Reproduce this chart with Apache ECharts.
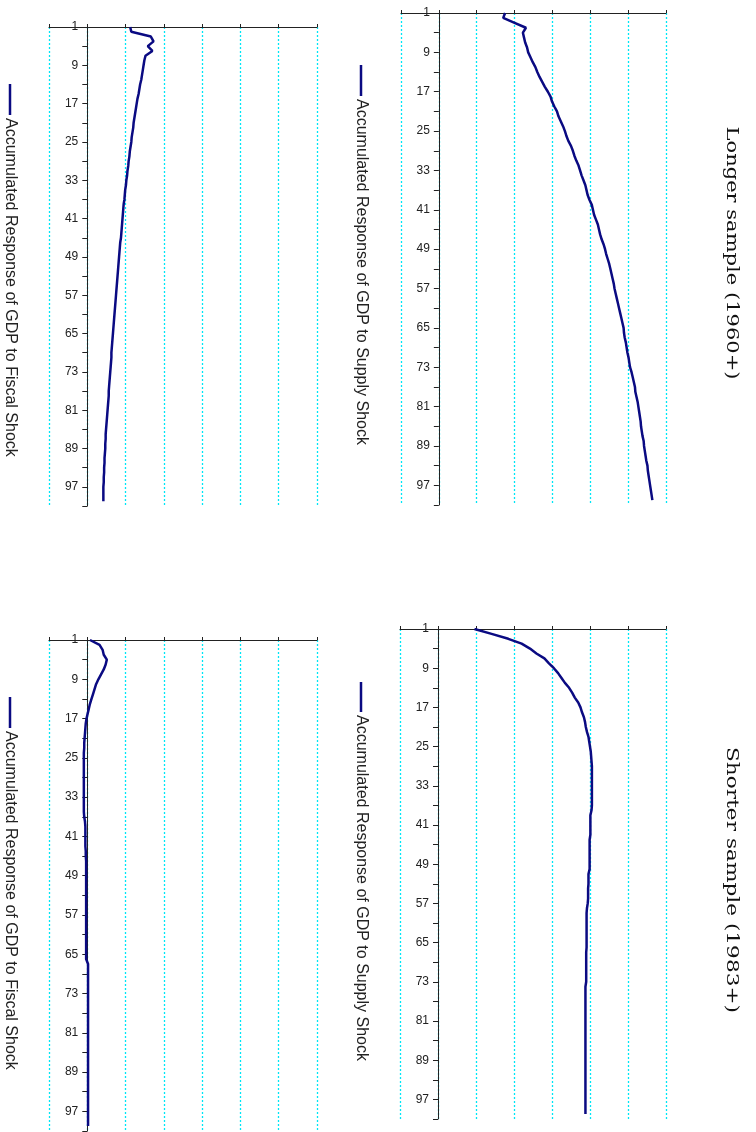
<!DOCTYPE html>
<html>
<head>
<meta charset="utf-8">
<script src="https://cdn.jsdelivr.net/npm/echarts@6/dist/echarts.min.js"></script>
<style>
  html, body { margin: 0; padding: 0; background: #ffffff; }
  #chart { width: 756px; height: 1132px; }
</style>
</head>
<body>
<div id="chart"></div>
<script>
// Horizon (quarters after the shock), 1..101 on the category axis
const periods = Array.from({ length: 101 }, (_, i) => String(i + 1));

const sampleTitles = ['Longer sample (1960+)', 'Shorter sample (1983+)'];
const supplyName = 'Accumulated Response of GDP to Supply Shock';
const fiscalName = 'Accumulated Response of GDP to Fiscal Shock';

// Response axis range and step
const respMin = -1;
const respMax = 6;
const respStep = 1;

// Longer sample (1960+)
const longerSupply = [
  1.75, 1.70, 2.00, 2.30, 2.22, 2.25, 2.28, 2.33, 2.36, 2.42,
  2.48, 2.55, 2.60, 2.66, 2.73, 2.80, 2.88, 2.95, 2.99, 3.05,
  3.12, 3.16, 3.22, 3.28, 3.33, 3.37, 3.42, 3.49, 3.54, 3.58,
  3.63, 3.69, 3.73, 3.77, 3.82, 3.87, 3.90, 3.93, 3.98, 4.04,
  4.07, 4.10, 4.15, 4.20, 4.23, 4.26, 4.30, 4.35, 4.39, 4.42,
  4.46, 4.50, 4.53, 4.56, 4.59, 4.62, 4.64, 4.67, 4.70, 4.73,
  4.76, 4.79, 4.82, 4.85, 4.88, 4.89, 4.91, 4.94, 4.96, 4.98,
  5.01, 5.03, 5.05, 5.09, 5.12, 5.15, 5.18, 5.19, 5.22, 5.25,
  5.27, 5.29, 5.31, 5.33, 5.34, 5.36, 5.38, 5.41, 5.42, 5.44,
  5.46, 5.48, 5.51, 5.52, 5.54, 5.56, 5.58, 5.60, 5.62, 5.64
];
const longerFiscal = [
  1.12, 1.15, 1.66, 1.73, 1.58, 1.70, 1.52, 1.49, 1.47, 1.45,
  1.43, 1.41, 1.38, 1.36, 1.34, 1.31, 1.29, 1.27, 1.25, 1.23,
  1.21, 1.20, 1.18, 1.16, 1.15, 1.13, 1.11, 1.10, 1.08, 1.07,
  1.05, 1.04, 1.02, 1.01, 0.99, 0.98, 0.97, 0.95, 0.94, 0.93,
  0.92, 0.91, 0.90, 0.89, 0.88, 0.86, 0.85, 0.84, 0.83, 0.82,
  0.81, 0.80, 0.79, 0.78, 0.77, 0.76, 0.75, 0.74, 0.73, 0.72,
  0.71, 0.70, 0.69, 0.68, 0.67, 0.66, 0.65, 0.64, 0.63, 0.63,
  0.62, 0.61, 0.60, 0.59, 0.58, 0.57, 0.56, 0.56, 0.55, 0.54,
  0.53, 0.52, 0.51, 0.50, 0.49, 0.48, 0.48, 0.47, 0.47, 0.46,
  0.45, 0.45, 0.44, 0.44, 0.43, 0.43, 0.42, 0.42, 0.42, 0.42
];

// Shorter sample (1983+)
const shorterSupply = [
  0.96, 1.41, 1.85, 2.20, 2.42, 2.59, 2.80, 2.92, 3.05, 3.16,
  3.25, 3.34, 3.45, 3.53, 3.60, 3.69, 3.75, 3.79, 3.84, 3.87,
  3.89, 3.92, 3.96, 3.98, 4.00, 4.02, 4.03, 4.04, 4.05, 4.05,
  4.05, 4.05, 4.05, 4.05, 4.05, 4.05, 4.05, 4.04, 4.01, 4.01,
  4.01, 4.01, 4.01, 3.99, 3.99, 3.99, 3.99, 3.99, 3.99, 3.99,
  3.96, 3.96, 3.96, 3.95, 3.95, 3.95, 3.94, 3.92, 3.91, 3.91,
  3.91, 3.91, 3.91, 3.91, 3.91, 3.91, 3.90, 3.90, 3.90, 3.90,
  3.90, 3.90, 3.90, 3.88, 3.88, 3.88, 3.88, 3.88, 3.88, 3.88,
  3.88, 3.88, 3.88, 3.88, 3.88, 3.88, 3.88, 3.88, 3.88, 3.88,
  3.88, 3.88, 3.88, 3.88, 3.88, 3.88, 3.88, 3.88, 3.88, 3.88
];
const shorterFiscal = [
  0.07, 0.32, 0.40, 0.43, 0.51, 0.48, 0.43, 0.36, 0.29, 0.23,
  0.19, 0.15, 0.11, 0.07, 0.04, 0.01, -0.02, -0.04, -0.05, -0.06,
  -0.07, -0.08, -0.08, -0.09, -0.09, -0.09, -0.09, -0.09, -0.09, -0.09,
  -0.09, -0.09, -0.09, -0.09, -0.09, -0.09, -0.08, -0.06, -0.05, -0.05,
  -0.05, -0.05, -0.05, -0.04, -0.04, -0.03, -0.03, -0.03, -0.03, -0.03,
  -0.03, -0.03, -0.03, -0.03, -0.03, -0.03, -0.03, -0.03, -0.03, -0.03,
  -0.03, -0.03, -0.03, -0.03, -0.03, -0.03, 0.02, 0.02, 0.02, 0.02,
  0.02, 0.02, 0.02, 0.02, 0.02, 0.02, 0.02, 0.02, 0.02, 0.02,
  0.02, 0.02, 0.02, 0.02, 0.02, 0.02, 0.02, 0.02, 0.02, 0.02,
  0.02, 0.02, 0.02, 0.02, 0.02, 0.02, 0.02, 0.02, 0.02, 0.02
];

const PAGE_W = 756;
const INK = '#222222';
const NAVY = '#0a0a82';
const GRID_CYAN = '#00e6f6';
const SANS = '"Liberation Sans", Arial, Helvetica, sans-serif';
const SERIF = '"DejaVu Serif", "Liberation Serif", serif';

// The page is laid out turned a quarter turn: horizon runs downwards,
// response runs to the right, and all captions read top to bottom.
const panels = [
  { data: longerSupply, name: supplyName,
    grid: { left: 401, right: 90, top: 13, bottom: 627 },
    key: { x: 361, y1: 65, y2: 96, textY: 99 } },
  { data: longerFiscal, name: fiscalName,
    grid: { left: 49, right: 439, top: 27, bottom: 626 },
    key: { x: 10, y1: 84, y2: 115, textY: 118 } },
  { data: shorterSupply, name: supplyName,
    grid: { left: 400, right: 90, top: 629, bottom: 13 },
    key: { x: 361, y1: 682, y2: 712, textY: 715 } },
  { data: shorterFiscal, name: fiscalName,
    grid: { left: 49, right: 439, top: 640, bottom: 1 },
    key: { x: 10, y1: 697, y2: 728, textY: 731 } }
];

const titleLayout = [
  { x: 731, y: 253, length: 253 },
  { x: 731, y: 880, length: 266 }
];

function textWidth(text, font) {
  const ctx = document.createElement('canvas').getContext('2d');
  ctx.font = font;
  return ctx.measureText(text).width;
}

// The horizon axis sits where the response is zero: shift it inwards
// from the left edge of its grid by the width of the negative part.
function zeroOffset(grid) {
  const width = PAGE_W - grid.left - grid.right;
  return -width * (0 - respMin) / (respMax - respMin);
}

const graphics = [];
panels.forEach(p => {
  graphics.push({
    type: 'line',
    shape: { x1: p.key.x, y1: p.key.y1, x2: p.key.x, y2: p.key.y2 },
    style: { stroke: NAVY, lineWidth: 2.5 }
  });
  graphics.push({
    type: 'text',
    x: p.key.x + 0.5, y: p.key.textY,
    rotation: -Math.PI / 2,
    style: {
      text: p.name, fill: INK,
      fontSize: 16, fontFamily: SANS,
      textAlign: 'left', align: 'left',
      textVerticalAlign: 'middle', verticalAlign: 'middle'
    }
  });
});

sampleTitles.forEach((t, i) => {
  const lay = titleLayout[i];
  const w = textWidth(t, '17px "DejaVu Serif"');
  graphics.push({
    type: 'text',
    x: lay.x, y: lay.y,
    rotation: -Math.PI / 2,
    scaleX: lay.length / w,
    style: {
      text: t, fill: '#111111',
      fontSize: 17, fontFamily: SERIF,
      textAlign: 'center', align: 'center',
      textVerticalAlign: 'middle', verticalAlign: 'middle'
    }
  });
});

const option = {
  animation: false,
  backgroundColor: '#ffffff',
  grid: panels.map(p => Object.assign({ containLabel: false }, p.grid)),
  xAxis: panels.map((p, i) => ({
    type: 'value',
    gridIndex: i,
    position: 'top',
    min: respMin, max: respMax, interval: respStep,
    axisLine: { show: true, onZero: false, lineStyle: { color: INK, width: 1 } },
    axisTick: { show: true, length: 3, lineStyle: { color: INK, width: 1 } },
    axisLabel: { show: false },
    splitLine: { show: true, lineStyle: { color: GRID_CYAN, width: 1.3, type: [2, 2] } }
  })),
  yAxis: panels.map((p, i) => ({
    type: 'category',
    gridIndex: i,
    position: 'left',
    offset: zeroOffset(p.grid),
    data: periods,
    inverse: true,
    boundaryGap: false,
    axisLine: { show: true, onZero: false, lineStyle: { color: INK, width: 1 } },
    axisTick: { show: true, interval: 3, length: 5, lineStyle: { color: INK, width: 1 } },
    axisLabel: { show: true, interval: 7, margin: 9, fontSize: 12, color: INK, fontFamily: SANS },
    splitLine: { show: false }
  })),
  series: panels.map((p, i) => ({
    type: 'line',
    name: p.name,
    xAxisIndex: i,
    yAxisIndex: i,
    data: p.data,
    symbol: 'none',
    lineStyle: { color: NAVY, width: 2.5 },
    itemStyle: { color: NAVY }
  })),
  graphic: graphics
};

const chart = echarts.init(document.getElementById('chart'), null, { renderer: 'canvas' });
chart.setOption(option);
</script>
</body>
</html>
